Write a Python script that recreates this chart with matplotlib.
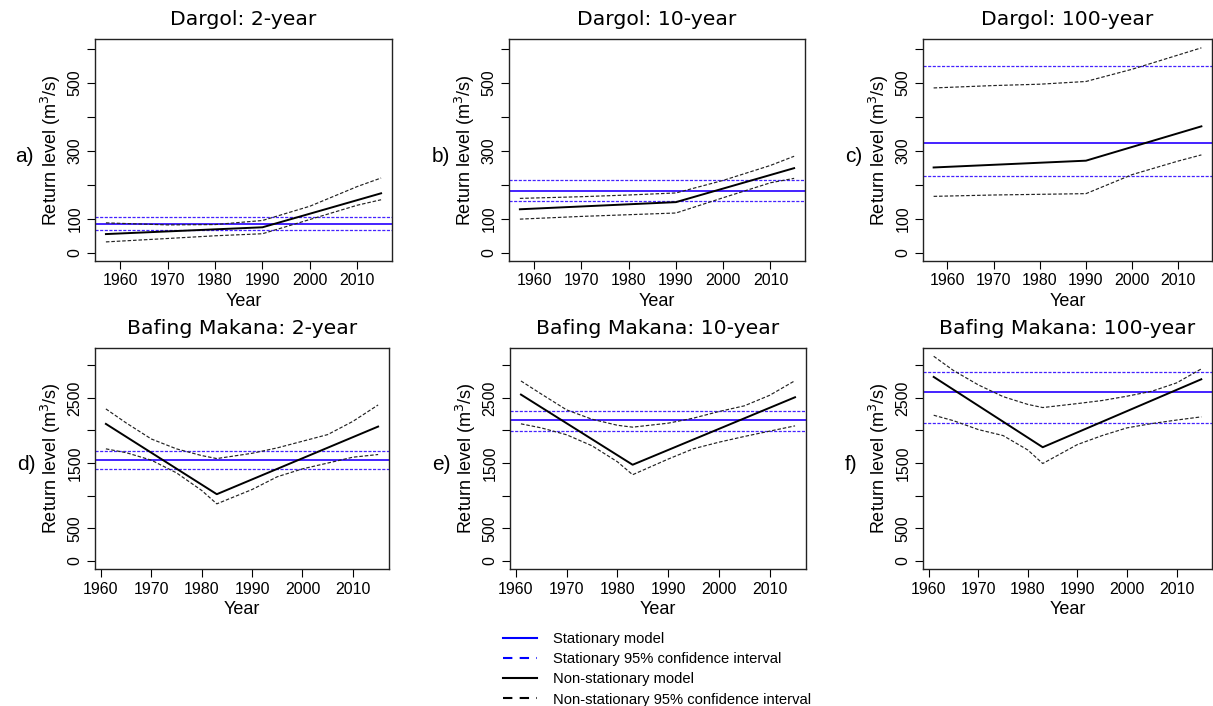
import matplotlib
matplotlib.use("Agg")
import matplotlib.pyplot as plt
from matplotlib.lines import Line2D

# ---------------- data ----------------
dargol_years_ns = [1957, 1990, 2015]
dargol_years_ci = [1957, 1970, 1980, 1990, 2000, 2010, 2015]
bafing_years_ns = [1961, 1983, 2015]
bafing_years_ci = [1961, 1965, 1970, 1975, 1980, 1983, 1990, 1995, 2000, 2005, 2010, 2015]

# Dargol 2-year
a_ns = [55, 75, 175]
a_up = [88, 82, 83, 95, 137, 195, 220]
a_lo = [32, 42, 50, 56, 98, 140, 156]
a_st = [86, 105, 67]          # stationary: model, upper, lower

# Dargol 10-year
b_ns = [128, 149, 249]
b_up = [160, 165, 170, 176, 213, 257, 284]
b_lo = [99, 107, 112, 117, 162, 206, 219]
b_st = [182, 214, 152]

# Dargol 100-year
c_ns = [251, 271, 372]
c_up = [485, 492, 496, 504, 540, 582, 603]
c_lo = [166, 170, 172, 174, 230, 270, 288]
c_st = [324, 549, 225]

# Bafing Makana 2-year
d_ns = [2101, 1022, 2060]
d_up = [2331, 2117, 1870, 1718, 1615, 1569, 1650, 1733, 1835, 1937, 2140, 2392]
d_lo = [1718, 1660, 1545, 1350, 1080, 874, 1094, 1290, 1411, 1500, 1590, 1631]
d_st = [1544, 1692, 1411]

# Bafing Makana 10-year
e_ns = [2551, 1474, 2510]
e_up = [2760, 2560, 2316, 2173, 2080, 2051, 2112, 2190, 2291, 2378, 2540, 2765]
e_lo = [2102, 2040, 1934, 1765, 1520, 1321, 1561, 1720, 1820, 1908, 1990, 2071]
e_st = [2163, 2306, 1990]

# Bafing Makana 100-year
f_ns = [2822, 1743, 2786]
f_up = [3139, 2920, 2700, 2520, 2400, 2352, 2413, 2460, 2526, 2602, 2730, 2945]
f_lo = [2234, 2150, 2014, 1922, 1700, 1493, 1784, 1922, 2040, 2106, 2160, 2209]
f_st = [2597, 2894, 2111]

titles = ["Dargol: 2-year", "Dargol: 10-year", "Dargol: 100-year",
          "Bafing Makana: 2-year", "Bafing Makana: 10-year", "Bafing Makana: 100-year"]
letters = ["a)", "b)", "c)", "d)", "e)", "f)"]
xticks = [1960, 1970, 1980, 1990, 2000, 2010]
dargol_yticks = [0, 100, 200, 300, 400, 500, 600]
dargol_ylabels = ["0", "100", "", "300", "", "500", ""]
bafing_yticks = [0, 500, 1000, 1500, 2000, 2500, 3000]
bafing_ylabels = ["0", "500", "", "1500", "", "2500", ""]
legend_labels = ["Stationary model", "Stationary 95% confidence interval",
                 "Non-stationary model", "Non-stationary 95% confidence interval"]

# ---------------- figure ----------------
W, H = 1213, 706
fig = plt.figure(figsize=(W / 100, H / 100), dpi=100)
SANS = "Liberation Sans"
BLUE = "#4422ff"

# axes boxes in pixels: left, right, top, bottom
boxes = [(95, 392, 39, 261), (509, 805, 39, 261), (923, 1212, 39, 261),
         (95, 389, 348, 569), (510, 806, 348, 569), (923, 1212, 348, 569)]

panels = [
    (dargol_years_ns, dargol_years_ci, a_ns, a_up, a_lo, a_st),
    (dargol_years_ns, dargol_years_ci, b_ns, b_up, b_lo, b_st),
    (dargol_years_ns, dargol_years_ci, c_ns, c_up, c_lo, c_st),
    (bafing_years_ns, bafing_years_ci, d_ns, d_up, d_lo, d_st),
    (bafing_years_ns, bafing_years_ci, e_ns, e_up, e_lo, e_st),
    (bafing_years_ns, bafing_years_ci, f_ns, f_up, f_lo, f_st),
]

for i, (box, pdata) in enumerate(zip(boxes, panels)):
    l, r, t, b = box
    ax = fig.add_axes([l / W, 1 - b / H, (r - l) / W, (b - t) / H])
    yns, yci, ns, up, lo, st = pdata
    dargol = i < 3

    # stationary lines
    ax.axhline(st[0], color=BLUE, lw=1.4, zorder=2)
    ax.axhline(st[1], color=BLUE, lw=0.9, dashes=(2.5, 1.2), zorder=2)
    ax.axhline(st[2], color=BLUE, lw=0.9, dashes=(2.5, 1.2), zorder=2)
    # non-stationary
    ax.plot(yns, ns, color="black", lw=1.4, zorder=3)
    ax.plot(yci, up, color="#222222", lw=0.85, dashes=(3, 1.6), zorder=3)
    ax.plot(yci, lo, color="#222222", lw=0.85, dashes=(3, 1.6), zorder=3)

    if dargol:
        ax.set_xlim(1954.7, 2017.3)
        ax.set_ylim(-24.2, 629)
        ax.set_yticks(dargol_yticks)
        ax.set_yticklabels(dargol_ylabels)
    else:
        ax.set_xlim(1958.84, 2017.16)
        ax.set_ylim(-126, 3266)
        ax.set_yticks(bafing_yticks)
        ax.set_yticklabels(bafing_ylabels)
    ax.set_xticks(xticks)
    ax.set_xticklabels([str(x) for x in xticks])

    for lab in ax.get_yticklabels():
        lab.set_rotation(90)
        lab.set_va("center")
        lab.set_fontfamily(SANS)
        lab.set_fontsize(11.5)
    for lab in ax.get_xticklabels():
        lab.set_fontfamily(SANS)
        lab.set_fontsize(11.5)
    ax.tick_params(direction="out", length=6, width=0.8, pad=3, colors="black")
    for s in ax.spines.values():
        s.set_linewidth(1.0)
        s.set_color("#222222")

    ax.set_xlabel("Year", fontsize=13, family=SANS, labelpad=3)
    ax.set_ylabel("Return level (m$^3$/s)", fontsize=13, family=SANS, labelpad=3)
    ax.set_title(titles[i], fontsize=14.7, family="DejaVu Sans", pad=10)

    # panel letter
    lx = [15, 432, 845, 17, 432, 845][i]
    ly = 157 if dargol else 464
    fig.text(lx / W, 1 - ly / H, letters[i], fontsize=15, family=SANS,
             va="center", ha="left")

# legend
handles = [Line2D([], [], color="#0000ff", lw=1.5),
           Line2D([], [], color="#0000ff", lw=1.5, dashes=(4.5, 3.5)),
           Line2D([], [], color="black", lw=1.5),
           Line2D([], [], color="black", lw=1.5, dashes=(4.5, 3.5))]
fig.legend(handles, legend_labels, loc="upper left",
           bbox_to_anchor=(503 / W, 1 - 632 / H), frameon=False,
           prop={"family": SANS, "size": 10.6}, handlelength=2.3,
           handletextpad=1.1, labelspacing=0.42, borderpad=0, borderaxespad=0)

fig.savefig("out.png", dpi=100)
